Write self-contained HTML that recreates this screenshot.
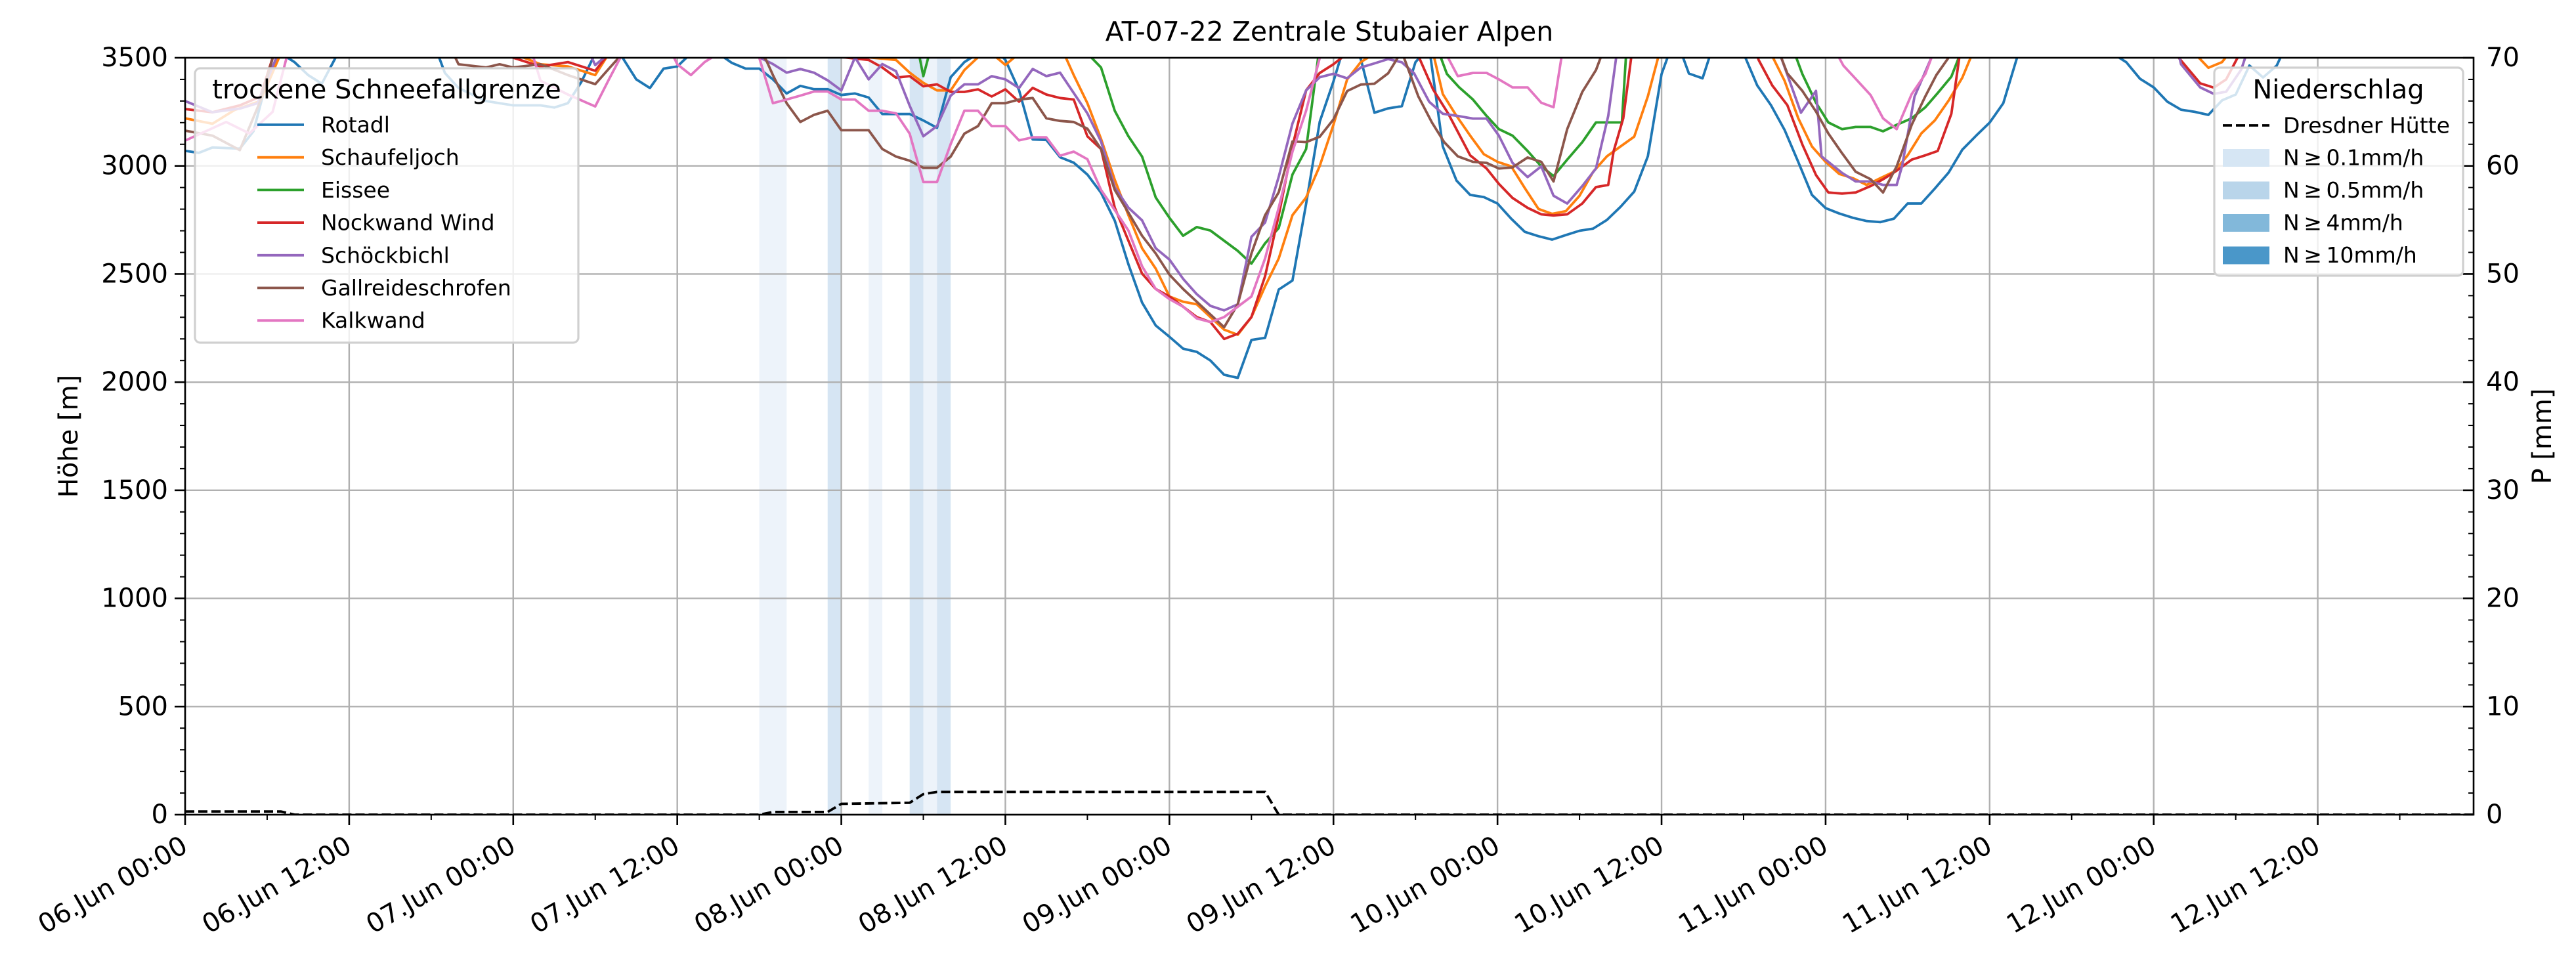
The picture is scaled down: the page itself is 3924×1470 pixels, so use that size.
<!DOCTYPE html>
<html><head><meta charset="utf-8">
<style>
html,body{margin:0;padding:0;background:#fff;}
svg{display:block;font-family:"DejaVu Sans","Liberation Sans",sans-serif;}
</style></head>
<body>
<svg id="chart" width="3924" height="1470" viewBox="0 0 3924 1470" xmlns="http://www.w3.org/2000/svg">
<rect width="3924" height="1470" fill="#fff"/>
<defs><clipPath id="plotclip"><rect x="281" y="88" width="3487" height="1153"/></clipPath></defs>
<g id="bands" clip-path="url(#plotclip)"></g>
<g id="grid"></g>
<g id="lines" clip-path="url(#plotclip)"></g>
<g id="axes"></g>
<g id="legends"></g>
</svg>
<script>
// ---- data ----
const seriesNames = ["Rotadl","Schaufeljoch","Eissee","Nockwand Wind","Schöckbichl","Gallreideschrofen","Kalkwand"];
const rotadlHours = [0,1,2,4,5,6,7,8,9,10,11,12,18,19,20,22,24,26,27,28,29,30,31,32,33,34,35,36,37,38,39,40,41,42,43,44,45,46,47,48,49,50,51,52,53,54,55,56,57,58,59,60,61,62,63,64,65,66,67,68,69,70,71,72,73,74,75,76,77,78,79,80,81,82,83,84,85,86,87,88,89,90,91,92,93,94,95,96,97,98,99,100,101,102,103,104,105,106,107,108,109,110,111,112,113,114,115,116,117,118,119,120,121,122,123,124,125,126,127,128,129,130,131,132,133,134,135,141,142,143,144,145,146,147,148,149,150,151,152,153,154,168];
const rotadlValues = [3070,3060,3085,3080,3160,3400,3520,3480,3420,3380,3500,3600,3600,3430,3360,3300,3280,3280,3270,3290,3390,3520,3600,3500,3400,3360,3450,3460,3520,3600,3520,3476,3450,3450,3400,3335,3370,3355,3355,3328,3335,3316,3240,3240,3240,3210,3176,3410,3480,3520,3560,3490,3350,3122,3120,3040,3015,2960,2876,2747,2545,2368,2262,2210,2155,2140,2100,2034,2020,2195,2205,2428,2470,2825,3205,3390,3600,3494,3246,3266,3276,3480,3550,3090,2932,2866,2856,2826,2756,2695,2675,2659,2680,2700,2710,2750,2811,2881,3045,3424,3600,3427,3405,3600,3600,3520,3372,3281,3166,3018,2866,2805,2780,2760,2745,2740,2756,2826,2826,2896,2969,3075,3139,3200,3290,3500,3600,3520,3479,3403,3363,3297,3260,3250,3236,3303,3330,3464,3409,3464,3600,3600];
const schaufelHours = [0,2,3.6,5.5,7,8,23,24,26,28,30,31,32,49,50,52,53,54,55,56,57,58,59,60,61,62,64,65,66,67,68,69,70,71,72,73,74,75,76,77,78,79,80,81,82,83,84,85,86,87,88,91,92,93,94,95,96,97,98,99,100,101,102,103,104,105,106,107,108,109,115,116,117,118,119,120,121,122,123,124,125,126,127,128,129,130,131,132,146,147,148,149,150,168];
const schaufelValues = [3220,3195,3258,3300,3520,3600,3600,3520,3470,3460,3420,3520,3600,3600,3502,3490,3431,3384,3349,3349,3443,3502,3520,3467,3520,3600,3560,3420,3290,3125,2936,2772,2619,2525,2396,2372,2360,2301,2243,2219,2301,2443,2572,2772,2854,3000,3190,3400,3480,3520,3600,3600,3332,3231,3140,3054,3019,2998,2897,2801,2778,2791,2862,2973,3044,3090,3135,3322,3560,3600,3600,3520,3393,3220,3090,3019,2963,2943,2912,2943,2973,3049,3150,3211,3302,3408,3560,3600,3600,3520,3454,3480,3560,3600];
const eisseeHours = [0,53,53.7,54,54.4,55,65,66,67,68,69,70,71,72,73,74,75,76,77,78,79,80,81,82,82.9,83.5,91,91.8,92.3,93.2,94.2,95.2,96.1,97.1,98.2,99.2,100.1,101.1,102.2,103.2,105.1,105.4,106,117,117.8,118.3,119.3,120.2,121.2,122.2,123.3,124.2,125.2,126.3,127.3,128.2,129.2,129.8,130.5,168];
const eisseeValues = [3600,3600,3510,3415,3510,3600,3600,3520,3455,3255,3137,3043,2854,2760,2677,2717,2701,2654,2607,2548,2642,2713,2960,3078,3510,3600,3600,3510,3425,3363,3307,3231,3170,3140,3069,2998,2953,3029,3110,3201,3201,3510,3600,3600,3510,3425,3292,3201,3170,3180,3180,3160,3190,3220,3271,3337,3413,3510,3600,3600];
const nockwandHours = [0,2,4,5.5,6.5,7,23,24,26,28,30,31,32,46,47,50,51,52,53,54,55,56,57,58,59,60,61,62,63,64,65,66,67,68,69,70,71,72,73,74,75,76,77,78,79,80,81,82,83,84,85,86,90,90.2,91.3,92.4,94,95.2,96.1,97.1,98.2,99.2,100.1,101.1,102.2,103.2,104.1,104.5,105.2,105.8,106.5,114.5,115.1,116.1,117.2,118.3,119.3,120.2,121.2,122.2,123.3,124.2,125.2,126.3,127.3,128.2,129.2,129.8,130.5,145,145.7,147.4,148.4,149.3,150.3,151,168];
const nockwandValues = [3263,3248,3280,3320,3520,3600,3600,3500,3460,3480,3440,3520,3600,3600,3510,3490,3455,3408,3415,3368,3377,3342,3342,3354,3321,3354,3297,3361,3330,3314,3307,3137,3078,2807,2654,2502,2431,2396,2349,2301,2278,2200,2224,2301,2490,2772,3090,3349,3430,3470,3520,3600,3600,3510,3352,3241,3049,2988,2917,2852,2806,2776,2771,2776,2826,2902,2912,3069,3220,3510,3600,3600,3490,3372,3281,3099,2958,2877,2872,2877,2907,2938,2978,3029,3049,3069,3241,3510,3600,3600,3510,3382,3362,3400,3520,3600,3600];
const schoeckHours = [0,2,4,5.3,6.8,7.5,29,30,31,32,41,42,43,44,45,46,47,48,49,50,51,52,53,54,55,56,57,58,59,60,61,62,63,64,65,66,67,68,69,70,71,72,73,74,75,76,77,78,79,80,81,82,83,84,85,86,87,88,89,89.9,91,92,93.1,94.2,95.2,96.1,97.1,98.2,99.2,100.1,101.1,102.2,103.2,104.1,104.7,105.3,116,116.7,118.2,119.3,119.7,121.2,122.2,123.3,124.2,125.2,125.6,126.5,127.8,128.5,145.5,146,147.4,148.4,149.3,150.4,150.8,151.5,168];
const schoeckValues = [3300,3248,3265,3290,3520,3600,3600,3466,3520,3600,3600,3502,3471,3431,3448,3431,3396,3349,3502,3400,3471,3438,3278,3137,3184,3325,3377,3377,3415,3400,3360,3448,3415,3431,3337,3243,3113,2901,2807,2748,2619,2567,2478,2407,2353,2332,2360,2672,2738,2950,3196,3349,3410,3426,3405,3455,3474,3494,3479,3428,3297,3241,3231,3219,3219,3140,3014,2948,2998,2862,2826,2907,2988,3231,3510,3600,3600,3510,3246,3347,3044,2968,2928,2928,2912,2912,3000,3320,3510,3600,3600,3470,3363,3333,3343,3445,3520,3600,3600];
const gallHours = [0,2,4,5.5,6.5,7,19,20,22,23,24,26,28,30,31,32,33,41,42.5,43,44,45,46,47,48,49,50,51,52,53,54,55,56,57,58,59,60,61,62,63,64,65,66,67,68,69,70,71,72,73,74,75,76,77,78,79,80,81,82,83,84,85,86,87,88,88.8,89.1,90.2,91.2,92.1,93.1,94.2,95.2,96.1,97.1,98.2,99.2,100.1,101.1,102.2,103.2,103.6,104.2,116,116.7,117.2,118.3,119.3,120.2,121.2,122.2,123.3,124.2,125.2,126.3,127.3,128.1,129.1,130,168];
const gallValues = [3163,3140,3073,3300,3520,3600,3600,3470,3455,3470,3455,3470,3420,3378,3450,3520,3600,3600,3490,3420,3290,3203,3236,3255,3165,3165,3165,3078,3043,3024,2991,2991,3043,3149,3184,3290,3290,3307,3314,3220,3208,3203,3172,3078,2889,2784,2677,2595,2497,2431,2372,2313,2254,2360,2595,2772,2878,3113,3110,3135,3215,3346,3376,3380,3428,3510,3510,3322,3201,3110,3044,3019,3014,2988,2993,3039,3019,2928,3170,3342,3443,3510,3600,3600,3510,3428,3347,3251,3150,3059,2973,2938,2877,2998,3190,3322,3420,3510,3600,3600];
const kalkHours = [0,3,4.7,6.4,7.5,8,25,26,28,30,31,32,33,35,36,37,38,39,40,41.5,42,43,44,45,46,47,48,49,50,51,52,53,54,55,56,57,58,59,60,61,62,63,64,65,66,67,68,69,70,71,72,73,74,75,76,77,78,79,80,81,82,83,84,92,92.3,93.1,94.2,95.2,96.1,97.1,98.2,99.2,100.1,100.7,101.3,120.5,120.9,121.3,122.2,123.3,124.2,125.2,126.3,127.3,127.8,128.5,168];
const kalkValues = [3117,3203,3150,3250,3520,3600,3600,3394,3330,3275,3400,3520,3600,3600,3470,3420,3480,3520,3600,3600,3500,3290,3307,3325,3344,3344,3307,3307,3255,3255,3243,3149,2925,2925,3101,3255,3255,3184,3184,3118,3132,3132,3047,3066,3031,2889,2796,2701,2536,2431,2384,2349,2295,2278,2301,2349,2396,2572,2807,3066,3255,3500,3600,3600,3510,3415,3430,3430,3400,3363,3363,3292,3271,3510,3600,3600,3510,3464,3403,3327,3220,3170,3332,3425,3510,3600,3600];
// precipitation (cumulative, right axis)
const precipHours = [0,7,8,42,43,47,48,53,54,55,79,80,167.4];
const precipValues = [0.3,0.3,0,0,0.25,0.25,1.0,1.1,1.9,2.1,2.1,0,0];
// hourly precipitation intensity bands: start hour, level index (0: lightest, 1: >=0.1)
const bandStarts = [42,43,47,50,53,54,55];
const bandLevels = [0,0,1,0,1,0,1];
const xTickLabels = ["06.Jun 00:00","06.Jun 12:00","07.Jun 00:00","07.Jun 12:00","08.Jun 00:00","08.Jun 12:00","09.Jun 00:00","09.Jun 12:00","10.Jun 00:00","10.Jun 12:00","11.Jun 00:00","11.Jun 12:00","12.Jun 00:00","12.Jun 12:00"];
const yTicksLeft = [0,500,1000,1500,2000,2500,3000,3500];
const yTicksRight = [0,10,20,30,40,50,60,70];
const precipLegendLabels = ["N\u2009\u2265\u20090.1mm/h","N\u2009\u2265\u20090.5mm/h","N\u2009\u2265\u20094mm/h","N\u2009\u2265\u200910mm/h"];

// ---- layout ----
const X0=282, X1=3768, Y0=1241, Y1=88, HMAX=167.4;
const colors = ["#1f77b4","#ff7f0e","#2ca02c","#d62728","#9467bd","#8c564b","#e377c2"];
const bandColors = ["#edf3fa","#d6e5f3"];
const legendPatchColors = ["#d6e6f4","#b9d5ea","#82b8da","#4a97c9"];
const seriesHours = [rotadlHours,schaufelHours,eisseeHours,nockwandHours,schoeckHours,gallHours,kalkHours];
const seriesValues = [rotadlValues,schaufelValues,eisseeValues,nockwandValues,schoeckValues,gallValues,kalkValues];
const xs = h => X0 + h*(X1-X0)/HMAX;
const yL = v => Y0 - v*(Y0-Y1)/3500;
const yR = p => Y0 - p*(Y0-Y1)/70;
const NS="http://www.w3.org/2000/svg";
function mk(tag, attrs, parent){const e=document.createElementNS(NS,tag);for(const k in attrs)e.setAttribute(k,attrs[k]);parent.appendChild(e);return e;}
const gB=document.getElementById('bands'), gG=document.getElementById('grid'), gL=document.getElementById('lines'), gA=document.getElementById('axes'), gLeg=document.getElementById('legends');

// bands
bandStarts.forEach((s,i)=>{
  const r=mk('rect',{x:xs(s),y:Y1,width:xs(s+1)-xs(s),height:Y0-Y1,fill:bandColors[bandLevels[i]]},gB);
  
  
});
// grid
xTickLabels.forEach((t,i)=>{
  const x=xs(i*12);
  const l=mk('line',{x1:x,x2:x,y1:Y1,y2:Y0,stroke:'#b0b0b0','stroke-width':2.4},gG);
  
  
});
yTicksLeft.forEach(v=>{
  const l=mk('line',{x1:X0,x2:X1,y1:yL(v),y2:yL(v),stroke:'#b0b0b0','stroke-width':2.4},gG);
  
  
});
// series
seriesNames.forEach((n,i)=>{
  const pts=seriesHours[i].map((h,j)=>xs(h).toFixed(1)+','+yL(seriesValues[i][j]).toFixed(1)).join(' ');
  const p=mk('polyline',{points:pts,fill:'none',stroke:colors[i],'stroke-width':3.8,'stroke-linejoin':'round'},gL);
  
  
});
// precip dashed
{
  const pts=precipHours.map((h,j)=>xs(h).toFixed(1)+','+yR(precipValues[j]).toFixed(1)).join(' ');
  const p=mk('polyline',{points:pts,fill:'none',stroke:'#000','stroke-width':3.8,'stroke-dasharray':'14,6'},gL);
  
  
}
// axes frame
{
  const f=mk('rect',{x:X0,y:Y1,width:X1-X0,height:Y0-Y1,fill:'none',stroke:'#000','stroke-width':2.6},gA);
  
  
}
// left ticks
for(let v=0;v<=3500;v+=100){
  const major=v%500===0;
  mk('line',{x1:X0,x2:X0-(major?16:8),y1:yL(v),y2:yL(v),stroke:'#000','stroke-width':major?2.6:2},gA);
}
yTicksLeft.forEach(v=>{
  const t=mk('text',{x:X0-26,y:yL(v),'text-anchor':'end','dominant-baseline':'central','font-size':40},gA);
  t.textContent=v;
  
  
});
// right ticks (inward)
for(let p=0;p<=70;p+=2){
  const major=p%10===0;
  mk('line',{x1:X1,x2:X1-(major?16:8),y1:yR(p),y2:yR(p),stroke:'#000','stroke-width':major?2.6:2},gA);
}
yTicksRight.forEach(p=>{
  const t=mk('text',{x:X1+19,y:yR(p),'text-anchor':'start','dominant-baseline':'central','font-size':40},gA);
  t.textContent=p;
  
  
});
// x ticks
for(let h=0;h<=HMAX;h+=6){
  const major=h%12===0;
  mk('line',{x1:xs(h),x2:xs(h),y1:Y0,y2:Y0+(major?16:8),stroke:'#000','stroke-width':major?2.6:2},gA);
}
xTickLabels.forEach((s,i)=>{
  const x=xs(i*12)-8, y=Y0+30;
  const t=mk('text',{x:x,y:y,'text-anchor':'end','dominant-baseline':'hanging','font-size':40,transform:`rotate(-30 ${x} ${y})`},gA);
  t.textContent=s;
  
  
});
// titles
{
  let t=mk('text',{x:(X0+X1)/2,y:62,'text-anchor':'middle','font-size':41},gA);
  t.textContent='AT-07-22 Zentrale Stubaier Alpen';
  
  
  t=mk('text',{x:105,y:(Y0+Y1)/2,'text-anchor':'middle','dominant-baseline':'central','font-size':40,transform:`rotate(-90 105 ${(Y0+Y1)/2})`},gA);
  t.textContent='Höhe [m]';
  
  
  t=mk('text',{x:3873,y:(Y0+Y1)/2,'text-anchor':'middle','dominant-baseline':'central','font-size':40,transform:`rotate(-90 3873 ${(Y0+Y1)/2})`},gA);
  t.textContent='P [mm]';
  
  
}
// left legend
{
  const g=mk('g',{},gLeg);
  
  
  mk('rect',{x:297,y:104,width:584,height:418,rx:8,fill:'#fff','fill-opacity':0.8,stroke:'#d0d0d0','stroke-width':3.2},g);
  const tt=mk('text',{x:589,y:150,'text-anchor':'middle','font-size':40},g);
  tt.textContent='trockene Schneefallgrenze';
  
  
  seriesNames.forEach((n,i)=>{
    const y=190+i*49.7;
    const l=mk('line',{x1:392,x2:463,y1:y,y2:y,stroke:colors[i],'stroke-width':3.8},g);
    
    
    const t=mk('text',{x:489,y:y,'dominant-baseline':'central','font-size':33},g);
    t.textContent=n;
    
    
  });
}
// right legend
{
  const g=mk('g',{},gLeg);
  
  
  mk('rect',{x:3373,y:103,width:379,height:317,rx:8,fill:'#fff','fill-opacity':0.8,stroke:'#d0d0d0','stroke-width':3.2},g);
  const tt=mk('text',{x:3562,y:150,'text-anchor':'middle','font-size':40},g);
  tt.textContent='Niederschlag';
  
  
  const l=mk('line',{x1:3386,x2:3457,y1:191,y2:191,stroke:'#000','stroke-width':3.8,'stroke-dasharray':'14,6'},g);
  
  
  let t=mk('text',{x:3478,y:191,'dominant-baseline':'central','font-size':33},g);
  t.textContent='Dresdner Hütte';
  
  
  precipLegendLabels.forEach((s,i)=>{
    const y=240+i*49.5;
    const r=mk('rect',{x:3386,y:y-13,width:71,height:27,fill:legendPatchColors[i]},g);
    
    
    const tx=mk('text',{x:3478,y:y,'dominant-baseline':'central','font-size':33},g);
    tx.textContent=s;
    
    
  });
}
</script>
</body></html>
